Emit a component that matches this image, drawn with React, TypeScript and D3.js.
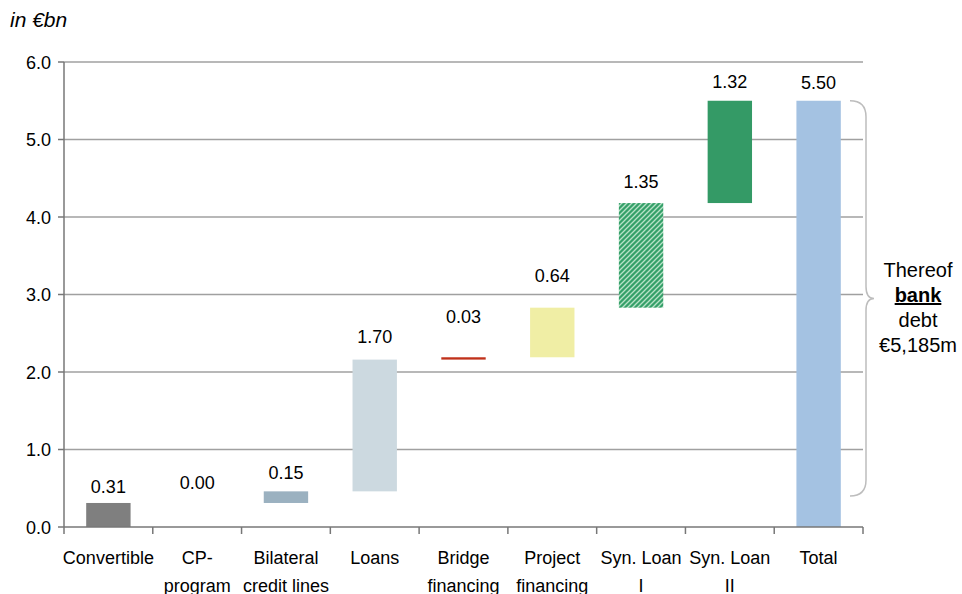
import React from "react";
import * as d3 from "d3";

const categories: string[][] = [
  ["Convertible"],
  ["CP-", "program"],
  ["Bilateral", "credit lines"],
  ["Loans"],
  ["Bridge", "financing"],
  ["Project", "financing"],
  ["Syn. Loan", "I"],
  ["Syn. Loan", "II"],
  ["Total"],
];
const values: number[] = [0.31, 0.0, 0.15, 1.7, 0.03, 0.64, 1.35, 1.32, 5.5];
const valueLabels: string[] = ["0.31", "0.00", "0.15", "1.70", "0.03", "0.64", "1.35", "1.32", "5.50"];
// level (in €bn) at which each value label sits
const labelLevels: number[] = [0.52, 0.57, 0.7, 2.46, 2.72, 3.25, 4.46, 5.75, 5.74];
const yTicks: number[] = [0, 1, 2, 3, 4, 5, 6];
const annotationLines: string[] = ["Thereof", "bank", "debt", "€5,185m"];

const colors = ["#7f7f7f", "#7f7f7f", "#9bb1c0", "#ccd9e0", "#c0311a", "#f0eea5", "url(#hatch)", "#349a66", "#a4c2e2"];

export default function App() {
  const W = 962, H = 594;
  const left = 64, right = 863, top = 62, bottom = 527;
  const x = d3.scaleBand<number>().domain(d3.range(categories.length)).range([left, right]).paddingInner(0).paddingOuter(0);
  const y = d3.scaleLinear().domain([0, 6]).range([bottom, top]);
  const bw = x.bandwidth() * 0.5;

  const bases: number[] = [];
  let acc = 0;
  values.forEach((v, i) => {
    if (i === values.length - 1) bases.push(0);
    else { bases.push(acc); acc += v; }
  });

  const font = "'Liberation Sans', Arial, sans-serif";
  const bTop = y(5.5), bBot = y(0.4);
  const bx = 866, mid = (bTop + bBot) / 2;
  const bracket = `M850,${bTop} Q${bx},${bTop} ${bx},${bTop + 16} L${bx},${mid - 12} Q${bx},${mid} ${bx + 8},${mid} Q${bx},${mid} ${bx},${mid + 12} L${bx},${bBot - 16} Q${bx},${bBot} 850,${bBot}`;
  const fs = 18;

  return (
    <svg width={W} height={H} style={{ position: "absolute", left: 0, top: 0, background: "#fff" }} fontFamily={font}>
      <defs>
        <pattern id="hatch" patternUnits="userSpaceOnUse" width="5" height="5">
          <rect width="5" height="5" fill="#35a069" />
          <path d="M-1,1 l2,-2 M0,5 l5,-5 M4,6 l2,-2" stroke="#b8e2c8" strokeWidth="1.3" />
        </pattern>
      </defs>
      <text x={10} y={27} fontSize={21} fontStyle="italic" fill="#000">in €bn</text>
      {/* gridlines */}
      {yTicks.filter((t) => t > 0).map((t) => (
        <line key={t} x1={left} x2={right} y1={y(t)} y2={y(t)} stroke="#a0a0a0" strokeWidth={1.5} />
      ))}
      {/* y axis */}
      <line x1={left} x2={left} y1={top} y2={bottom} stroke="#777" strokeWidth={1.5} />
      {yTicks.map((t) => (
        <g key={t}>
          <line x1={left - 6} x2={left} y1={y(t)} y2={y(t)} stroke="#777" strokeWidth={1.5} />
          <text x={51} y={y(t) + 6.5} fontSize={fs} textAnchor="end" fill="#000">{t.toFixed(1)}</text>
        </g>
      ))}
      {/* bars */}
      {values.map((v, i) => {
        const y0 = y(bases[i]), y1 = y(bases[i] + v);
        const h = Math.max(y0 - y1, 0);
        if (h <= 0) return null;
        return <rect key={i} x={x(i)! + (x.bandwidth() - bw) / 2} y={y1} width={bw} height={i === 4 ? Math.max(h, 2) : h} fill={colors[i]} />;
      })}
      {/* x axis */}
      <line x1={left} x2={right} y1={bottom} y2={bottom} stroke="#777" strokeWidth={1.5} />
      {d3.range(categories.length + 1).map((i) => {
        const xx = i < categories.length ? x(i)! : right;
        return <line key={i} x1={xx} x2={xx} y1={bottom} y2={bottom + 7} stroke="#777" strokeWidth={1.5} />;
      })}
      {categories.map((lines, i) => (
        <text key={i} x={x(i)! + x.bandwidth() / 2} fontSize={fs} textAnchor="middle" fill="#000">
          {lines.map((l, j) => (
            <tspan key={j} x={x(i)! + x.bandwidth() / 2} y={563.5 + j * 28}>{l}</tspan>
          ))}
        </text>
      ))}
      {/* value labels */}
      {valueLabels.map((l, i) => (
        <text key={i} x={x(i)! + x.bandwidth() / 2} y={y(labelLevels[i]) + 6.5} fontSize={fs} textAnchor="middle" fill="#000">{l}</text>
      ))}
      {/* bracket annotation */}
      <path d={bracket} fill="none" stroke="#bdbdbd" strokeWidth={1.5} />
      {annotationLines.map((l, j) => (
        <text key={j} x={918} y={277 + j * 25} fontSize={20} textAnchor="middle" fill="#000"
          fontWeight={j === 1 ? "bold" : "normal"} textDecoration={j === 1 ? "underline" : "none"}>{l}</text>
      ))}
    </svg>
  );
}
